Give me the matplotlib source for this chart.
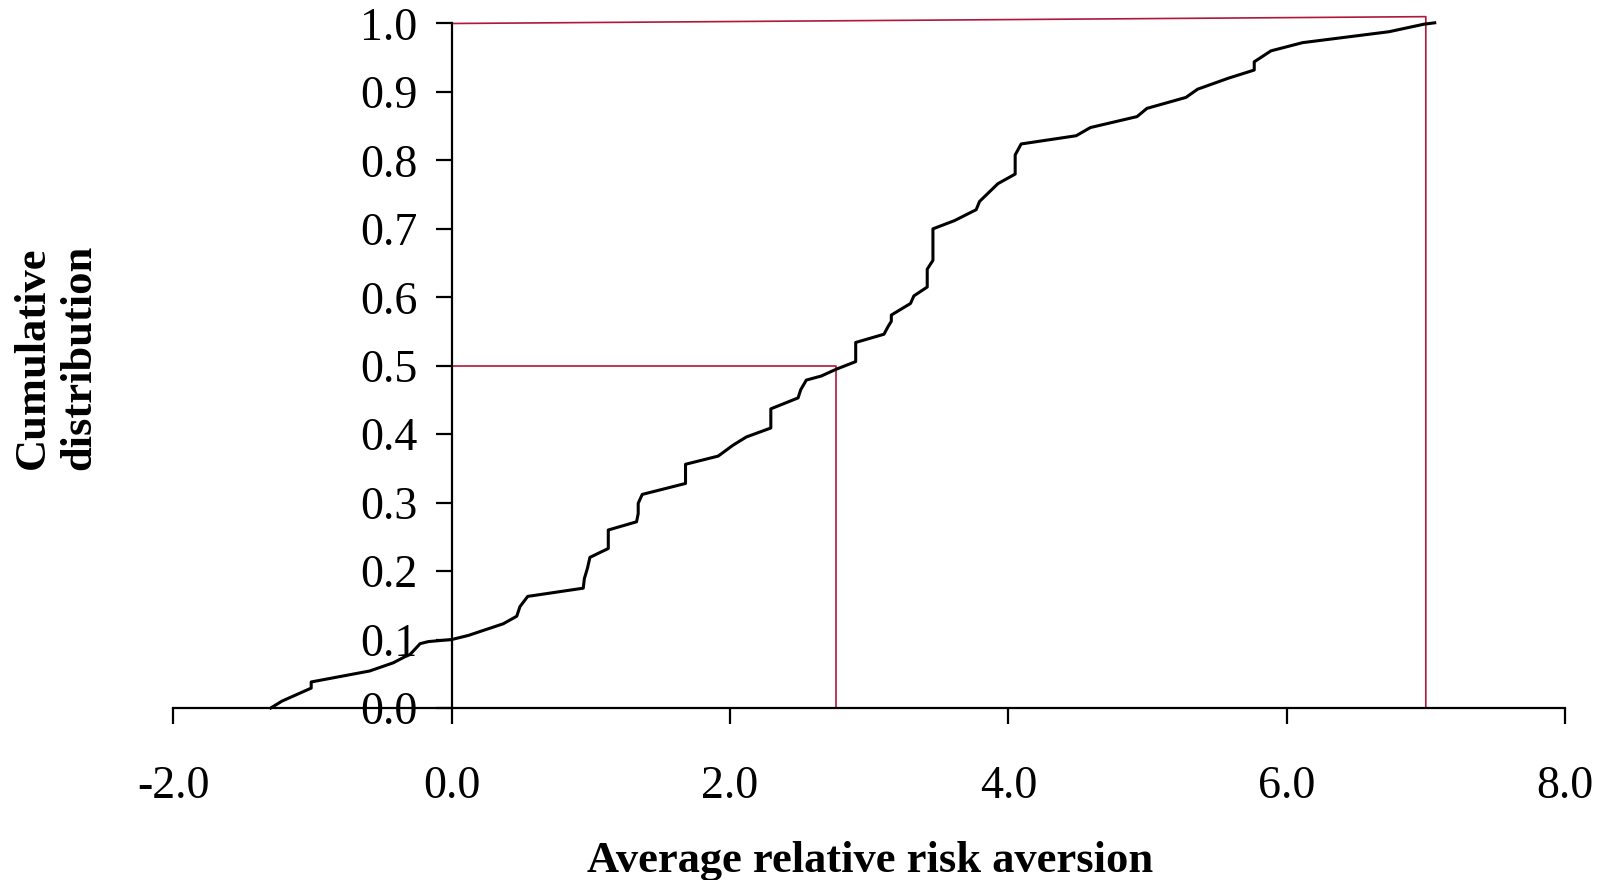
import matplotlib
matplotlib.use("Agg")
import matplotlib.pyplot as plt

# cumulative distribution of average relative risk aversion
risk_aversion = [
    -1.30, -1.22, -1.01, -1.01, -0.59, -0.42, -0.335, -0.30, -0.227, -0.167,
    0.0, 0.12, 0.37, 0.467, 0.49, 0.546, 0.945, 0.953, 0.975, 0.993,
    1.125, 1.125, 1.328, 1.34, 1.34, 1.369, 1.68, 1.68, 1.915, 2.022,
    2.118, 2.293, 2.293, 2.489, 2.508, 2.548, 2.656, 2.764, 2.903, 2.903,
    3.106, 3.135, 3.159, 3.159, 3.297, 3.321, 3.417, 3.417, 3.458, 3.458,
    3.613, 3.769, 3.793, 3.925, 4.049, 4.049, 4.092, 4.487, 4.59, 4.925,
    4.996, 5.276, 5.36, 5.58, 5.767, 5.767, 5.887, 6.114, 6.736, 6.987,
    7.064,
]
cumulative = [
    0.0, 0.010, 0.029, 0.038, 0.054, 0.066, 0.075, 0.078, 0.094, 0.097,
    0.100, 0.106, 0.123, 0.134, 0.148, 0.163, 0.175, 0.189, 0.204, 0.220,
    0.233, 0.260, 0.272, 0.284, 0.299, 0.312, 0.328, 0.356, 0.368, 0.384,
    0.396, 0.409, 0.437, 0.453, 0.465, 0.479, 0.485, 0.495, 0.506, 0.534,
    0.546, 0.557, 0.565, 0.574, 0.591, 0.602, 0.615, 0.641, 0.654, 0.700,
    0.712, 0.728, 0.740, 0.766, 0.780, 0.808, 0.824, 0.836, 0.848, 0.864,
    0.876, 0.892, 0.904, 0.920, 0.932, 0.944, 0.960, 0.972, 0.988, 0.999,
    1.001,
]

# median and maximum guide lines
median_x, median_y = 2.764, 0.5
max_x, max_y = 7.0, 1.01

x_ticks = [-2, 0, 2, 4, 6, 8]
y_ticks = [i / 10 for i in range(11)]

plt.rcParams["font.family"] = ["Liberation Serif", "DejaVu Serif"]
RED = "#b0183a"

fig = plt.figure(figsize=(16, 8.8), dpi=100)
ax = fig.add_axes([0.1084, 0.1955, 0.8697, 0.7778])

ax.plot(risk_aversion, cumulative, color="black", linewidth=2.2, clip_on=False, zorder=3)
ax.plot([0, median_x, median_x], [median_y, median_y, 0], color=RED, linewidth=1.2, clip_on=False)
ax.plot([0, max_x, max_x], [1.0, max_y, 0], color=RED, linewidth=1.2, clip_on=False)

ax.set_xlim(-2, 8)
ax.set_ylim(0, 1.0)
ax.spines["left"].set_position(("data", 0))
ax.spines["top"].set_visible(False)
ax.spines["right"].set_visible(False)
for side in ("left", "bottom"):
    ax.spines[side].set_linewidth(1.6)

ax.set_xticks(x_ticks)
ax.set_xticklabels([f"{v:.1f}" for v in x_ticks])
ax.set_yticks(y_ticks)
ax.set_yticklabels([f"{v:.1f}" for v in y_ticks])
ax.tick_params(axis="x", direction="out", length=11.5, width=1.6, labelsize=33, pad=30)
ax.tick_params(axis="y", direction="out", length=11.5, width=1.6, labelsize=33, pad=13)

fig.text(0.544, 0.022, "Average relative risk aversion", ha="center", va="center",
         fontsize=32, fontweight="bold")
fig.text(0.035, 0.594, "Cumulative\ndistribution", ha="center", va="center",
         rotation=90, fontsize=32, fontweight="bold", linespacing=1.2)

fig.savefig("out.png", dpi=100)
